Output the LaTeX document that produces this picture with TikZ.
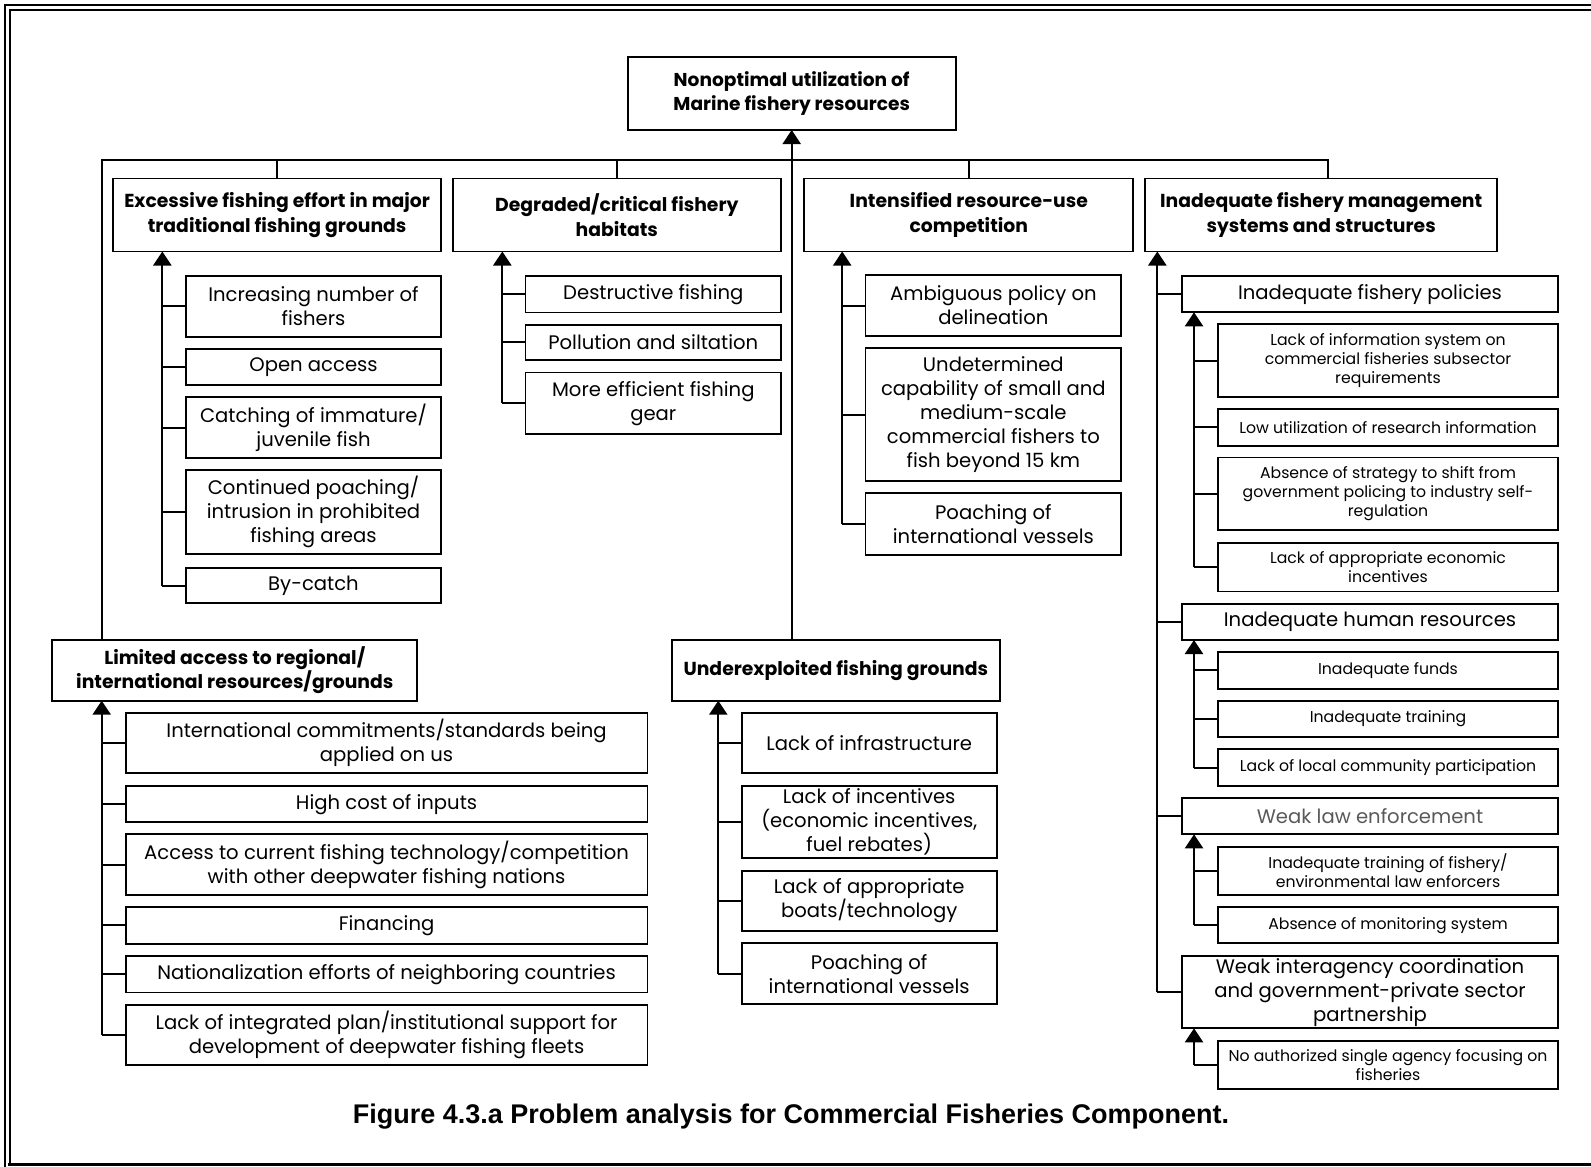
\documentclass[tikz,border=0pt]{standalone}
\usepackage{fontspec}
\setmainfont{Poppins}
\newfontfamily\capfont{Liberation Sans}
\usetikzlibrary{arrows.meta}

% type sizes
\newcommand\ftxt{\fontsize{9.8}{12}\selectfont}
\newcommand\fsml{\fontsize{7.85}{9.5}\selectfont}
\newcommand\fhead{\fontsize{9.4}{12.2}\selectfont\bfseries}
\newcommand\ftop{\fontsize{9.3}{11.7}\selectfont\bfseries}
\newcommand\fcap{\capfont\fontsize{13.5}{15}\selectfont\bfseries}

% box given by its corners (x1,y1) and (x2,y2)
\newcommand\pbox[7]{%
  \node[#6,minimum width={(#4-#2)*0.5pt},minimum height={(#5-#3)*0.5pt}]
    (#1) at ({(#2+#4)/2},{(#3+#5)/2}) {#7};}

\tikzset{
  box/.style={draw, line width=0.85pt, inner sep=0pt, outer sep=0pt,
              align=center, font=\ftxt},
  hbox/.style={box, font=\fhead},
  sbox/.style={box, font=\fsml},
  link/.style={line width=1pt},
  rise/.style={line width=1.1pt, -{Triangle[length=7pt,width=9pt]}},
}

\begin{document}
\begin{tikzpicture}[x=0.5pt,y=-0.5pt]
\useasboundingbox (0,0) rectangle (1591,1167);

% frame
\draw[line width=1.4pt] (5,1167) -- (5,5) -- (1591,5);
\draw[line width=1.1pt] (10,1163) -- (10,10) -- (1591,10);
\draw[line width=1.7pt] (8,1164.5) -- (1591,1164.5);

% core problem
\pbox{top}{627.7}{56.7}{955.7}{130}{box,font=\ftop}{Nonoptimal utilization of\\Marine fishery resources}

% main causes
\pbox{exc}{113.3}{178.5}{441}{251.5}{hbox}{Excessive fishing effort in major\\traditional fishing grounds}
\pbox{deg}{452.7}{178.5}{781}{251.5}{hbox}{Degraded/critical fishery\\habitats}
\pbox{int}{804.3}{178.5}{1133.3}{251.5}{hbox}{Intensified resource-use\\competition}
\pbox{mgt}{1145}{178.5}{1497.3}{251.5}{hbox}{Inadequate fishery management\\systems and structures}
\pbox{lim}{52.3}{640}{417.3}{700.7}{hbox}{Limited access to regional/\\international resources/grounds}
\pbox{und}{671.7}{640}{1000}{700.7}{hbox}{Underexploited fishing grounds}

% excessive fishing effort
\pbox{e1}{186}{276}{441}{336.7}{box}{Increasing number of\\fishers}
\pbox{e2}{186}{348.7}{441}{385}{box}{Open access}
\pbox{e3}{186}{397.3}{441}{458.3}{box}{Catching of immature/\\juvenile fish}
\pbox{e4}{186}{470}{441}{554.3}{box}{Continued poaching/\\intrusion in prohibited\\fishing areas}
\pbox{e5}{186}{567.7}{441}{603.3}{box}{By-catch}

% degraded habitats
\pbox{d1}{525.6}{276}{781}{312.5}{box}{Destructive fishing}
\pbox{d2}{525.6}{324.7}{781}{360.2}{box}{Pollution and siltation}
\pbox{d3}{525.6}{372.4}{781}{434.3}{box}{More efficient fishing\\gear}

% resource-use competition
\pbox{i1}{865.5}{275}{1121.2}{336}{box}{Ambiguous policy on\\delineation}
\pbox{i2}{865.5}{348}{1121.2}{481}{box}{Undetermined\\capability of small and\\medium-scale\\commercial fishers to\\fish beyond 15 km}
\pbox{i3}{865.5}{493}{1121.2}{555}{box}{Poaching of\\international vessels}

% limited access
\pbox{l1}{125.7}{713.3}{647.4}{773.3}{box}{International commitments/standards being\\applied on us}
\pbox{l2}{125.7}{786}{647.4}{822.3}{box}{High cost of inputs}
\pbox{l3}{125.7}{834}{647.4}{895}{box}{Access to current fishing technology/competition\\with other deepwater fishing nations}
\pbox{l4}{125.7}{907}{647.4}{943.7}{box}{Financing}
\pbox{l5}{125.7}{956}{647.4}{992.4}{box}{Nationalization efforts of neighboring countries}
\pbox{l6}{125.7}{1005}{647.4}{1065}{box}{Lack of integrated plan/institutional support for\\development of deepwater fishing fleets}

% underexploited grounds
\pbox{u1}{741.7}{713.3}{996.7}{773.3}{box}{Lack of infrastructure}
\pbox{u2}{741.7}{786}{996.7}{858.3}{box}{Lack of incentives\\(economic incentives,\\fuel rebates)}
\pbox{u3}{741.7}{870.7}{996.7}{930.7}{box}{Lack of appropriate\\boats/technology}
\pbox{u4}{741.7}{943.3}{996.7}{1004.3}{box}{Poaching of\\international vessels}

% management systems
\pbox{m1}{1181.7}{276}{1558.3}{312.3}{box}{Inadequate fishery policies}
\pbox{m1a}{1217.7}{324}{1558.3}{397}{sbox}{Lack of information system on\\commercial fisheries subsector\\requirements}
\pbox{m1b}{1217.7}{409}{1558.3}{445.7}{sbox}{Low utilization of research information}
\pbox{m1c}{1217.7}{457.6}{1558.3}{529.7}{sbox}{Absence of strategy to shift from\\government policing to industry self-\\regulation}
\pbox{m1d}{1217.7}{543}{1558.3}{591.5}{sbox}{Lack of appropriate economic\\incentives}
\pbox{m2}{1181.7}{604}{1558.3}{640}{box}{Inadequate human resources}
\pbox{m2a}{1217.7}{651.7}{1558.3}{688.7}{sbox}{Inadequate funds}
\pbox{m2b}{1217.7}{700.7}{1558.3}{736.7}{sbox}{Inadequate training}
\pbox{m2c}{1217.7}{749.3}{1558.3}{785.7}{sbox}{Lack of local community participation}
\pbox{m3}{1181.7}{798.3}{1558.3}{834.3}{box,text=black!65}{Weak law enforcement}
\pbox{m3a}{1217.7}{846.7}{1558.3}{895}{sbox}{Inadequate training of fishery/\\environmental law enforcers}
\pbox{m3b}{1217.7}{907.3}{1558.3}{943.3}{sbox}{Absence of monitoring system}
\pbox{m4}{1181.7}{956}{1558.3}{1028.3}{box}{Weak interagency coordination\\and government-private sector\\partnership}
\pbox{m4a}{1217.7}{1041}{1558.3}{1089.3}{sbox}{No authorized single agency focusing on\\fisheries}

% top-level bus
\coordinate (busL) at (101.7,160);
\coordinate (busR) at (1327.7,160);
\draw[link] (lim.north -| busL) -- (busL) -- (busR) -- (busR |- mgt.north);
\draw[link] (exc.north |- busL) -- (exc.north);
\draw[link] (deg.north |- busL) -- (deg.north);
\draw[link] (int.north |- busL) -- (int.north);
\draw[rise] (top.south |- und.north) -- (top.south);

% spines of the cause groups
\coordinate (se) at (162.3,0);
\coordinate (sd) at (502.3,0);
\coordinate (si) at (842.2,0);
\coordinate (sl) at (101.7,0);
\coordinate (su) at (718.3,0);
\coordinate (sm) at (1157.3,0);
\coordinate (sn) at (1194,0);

\draw[rise] (se |- e5.west) -- (se |- exc.south);
\foreach \n in {e1,e2,e3,e4,e5} \draw[link] (se |- \n.west) -- (\n.west);
\draw[rise] (sd |- d3.west) -- (sd |- deg.south);
\foreach \n in {d1,d2,d3} \draw[link] (sd |- \n.west) -- (\n.west);
\draw[rise] (si |- i3.west) -- (si |- int.south);
\foreach \n in {i1,i2,i3} \draw[link] (si |- \n.west) -- (\n.west);
\draw[rise] (sl |- l6.west) -- (sl |- lim.south);
\foreach \n in {l1,l2,l3,l4,l5,l6} \draw[link] (sl |- \n.west) -- (\n.west);
\draw[rise] (su |- u4.west) -- (su |- und.south);
\foreach \n in {u1,u2,u3,u4} \draw[link] (su |- \n.west) -- (\n.west);

\draw[rise] (sm |- m4.west) -- (sm |- mgt.south);
\foreach \n in {m1,m2,m3,m4} \draw[link] (sm |- \n.west) -- (\n.west);
\draw[rise] (sn |- m1d.west) -- (sn |- m1.south);
\foreach \n in {m1a,m1b,m1c,m1d} \draw[link] (sn |- \n.west) -- (\n.west);
\draw[rise] (sn |- m2c.west) -- (sn |- m2.south);
\foreach \n in {m2a,m2b,m2c} \draw[link] (sn |- \n.west) -- (\n.west);
\draw[rise] (sn |- m3b.west) -- (sn |- m3.south);
\foreach \n in {m3a,m3b} \draw[link] (sn |- \n.west) -- (\n.west);
\draw[rise] (sn |- m4a.west) -- (sn |- m4.south);
\draw[link] (sn |- m4a.west) -- (m4a.west);

% caption
\node[font=\fcap, inner sep=0pt] (cap) at (791,1117) {Figure 4.3.a Problem analysis for Commercial Fisheries Component.};
\end{tikzpicture}
\end{document}
